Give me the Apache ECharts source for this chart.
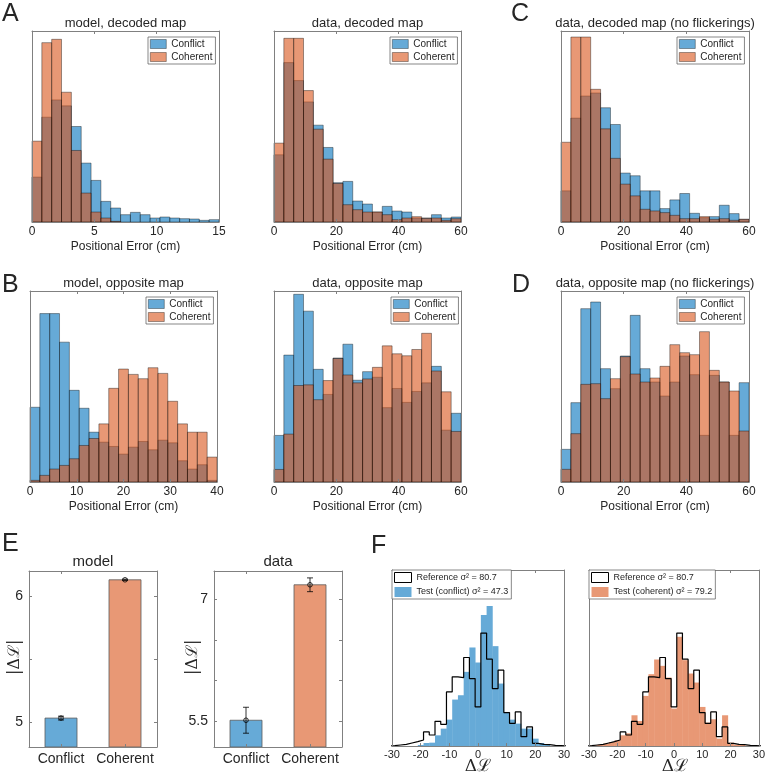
<!DOCTYPE html>
<html><head><meta charset="utf-8">
<script src="https://cdn.jsdelivr.net/npm/echarts@6/dist/echarts.min.js"></script>
<style>html,body{margin:0;padding:0;background:#fff}#c{width:768px;height:776px}</style>
</head><body><div id="c"></div>
<script>
// ---------------- DATA ----------------
// Histogram counts (arbitrary units), 19 bins spanning each panel's x range
const conflictModelDecoded = [135,315,367,349,287,177,125,62,42,22,29,22,12,15,12,10,9,5,7];
const coherentModelDecoded = [243,539,549,390,215,87,30,12,2,0,0,0,0,0,0,0,0,0,0];
const conflictDataDecoded  = [202,479,425,361,291,224,118,122,63,54,30,47,33,30,12,12,22,12,15];
const coherentDataDecoded  = [237,552,552,395,279,189,116,52,37,30,30,22,7,12,16,11,12,5,10];
const conflictDataDecodedNF = [93,310,376,385,341,291,146,138,93,93,40,66,85,26,13,16,50,25,8];
const coherentDataDecodedNF = [238,552,552,396,278,190,113,78,38,33,28,20,10,10,16,8,10,5,8];
const conflictModelOpp = [225,507,507,421,276,222,150,120,107,84,105,122,97,126,118,64,39,52,5];
const coherentModelOpp = [5,20,39,50,70,110,131,175,282,340,324,311,344,327,243,175,150,150,75];
const conflictDataOpp  = [141,384,568,517,341,265,375,417,308,334,317,225,283,241,274,300,350,157,208];
const coherentDataOpp  = [38,145,292,294,249,307,374,324,300,312,347,412,388,382,401,450,336,273,153];
const conflictDataOppNF = [98,238,520,540,340,280,378,500,340,300,258,300,378,322,140,320,300,140,298];
const coherentDataOppNF = [38,145,293,295,250,310,376,324,300,312,347,412,388,382,451,335,300,273,153];

// Panel E: mean |ΔL| and error
const eCategories = ['Conflict', 'Coherent'];
const eModelMeans = [5.03, 6.13];
const eModelErrs  = [0.015, 0.005];
const eDataMeans  = [5.51, 7.18];
const eDataErrs   = [0.16, 0.085];

// Panel F: ΔL histograms (bin centers, width 2)
const fBinCenters = [-30,-28,-26,-24,-22,-20,-18,-16,-14,-12,-10,-8,-6,-4,-2,0,2,4,6,8,10,12,14,16,18,20,22,24,26,28,30];
const fReference  = [1,3,5,9,13,18,42,33,74,65,162,207,205,265,202,117,338,260,172,227,100,68,102,28,57,8,5,4,2,1,0];
const fConflict   = [0,0,0,0,0,3,9,10,32,52,79,139,152,222,295,250,392,419,299,187,102,79,67,52,52,22,9,3,0,0,0];
const fCoherent   = [1,2,4,7,12,17,32,38,92,75,150,215,259,240,205,112,327,257,217,190,117,70,80,22,92,10,4,3,1,0,0];
const fRefName = 'Reference σ² = 80.7';
const fConfName = 'Test (conflict) σ² = 47.3';
const fCohName = 'Test (coherent) σ² = 79.2';

// ---------------- STYLE ----------------
const FONT = '"Liberation Sans", Arial, Helvetica, sans-serif';
const AXC = '#808080';
const TXT = '#262626';
const BLUE = 'rgba(0,114,189,0.6)';
const ORANGE = 'rgba(217,83,25,0.6)';
const BLUE_SOLID = 'rgb(102,170,215)';
const ORANGE_SOLID = 'rgb(232,152,117)';

const grid=[], xAxis=[], yAxis=[], series=[], legend=[], graphic=[];

function addText(x, y, text, size, o) {
  o = o || {};
  graphic.push({type:'text', x:x, y:y, rotation:o.rot||0, z:20,
    style:{text:text, fontSize:size, fontFamily:o.family||FONT, fill:TXT,
      align:o.align||'center', verticalAlign:o.va||'middle'}});
}

function makeBox(rect, xc, yc) {
  const gi = grid.length;
  grid.push(Object.assign({}, rect));
  const axLine = {show:true, onZero:false, lineStyle:{color:AXC, width:1}};
  const tick = Object.assign({show:true, inside:true, length:3, lineStyle:{color:AXC}}, xc.tickExtra||{});
  const ytick = yc.ticks ? Object.assign({show:true, inside:true, length:3, lineStyle:{color:AXC}}, yc.tickExtra||{}) : {show:false};
  const xb = xAxis.length;
  xAxis.push(Object.assign({gridIndex:gi, position:'bottom', z:5, axisLine:axLine, axisTick:tick,
    axisLabel:Object.assign({color:TXT, fontFamily:FONT, fontSize:12, margin:4}, xc.label||{}), splitLine:{show:false}}, xc.axis));
  xAxis.push(Object.assign({gridIndex:gi, position:'top', z:5, axisLine:axLine, axisTick:tick,
    axisLabel:{show:false}, splitLine:{show:false}}, xc.axis));
  const yl = yAxis.length;
  yAxis.push(Object.assign({gridIndex:gi, position:'left', z:5, axisLine:axLine, axisTick:ytick,
    axisLabel: yc.label ? Object.assign({color:TXT, fontFamily:FONT, fontSize:14, margin:6}, yc.label) : {show:false},
    splitLine:{show:false}}, yc.axis));
  yAxis.push(Object.assign({gridIndex:gi, position:'right', z:5, axisLine:axLine, axisTick:ytick,
    axisLabel:{show:false}, splitLine:{show:false}}, yc.axis));
  return {xb:xb, yl:yl};
}

function histLegend(left, top) {
  legend.push({left:left, top:top, orient:'vertical', itemWidth:16, itemHeight:9, itemGap:3,
    padding:[2,3,2,2], backgroundColor:'#fff', borderColor:'#555', borderWidth:0.7, z:10,
    selectedMode:false, textStyle:{fontSize:10, fontFamily:FONT, color:TXT},
    data:[{name:'Conflict', icon:'rect', itemStyle:{color:BLUE_SOLID, borderColor:'rgba(0,0,0,0.6)', borderWidth:0.6}},
          {name:'Coherent', icon:'rect', itemStyle:{color:ORANGE_SOLID, borderColor:'rgba(0,0,0,0.6)', borderWidth:0.6}}]});
}

function histPanel(rect, xMax, xInt, yMax, conf, coh, title, legPos) {
  const ax = makeBox(rect, {axis:{type:'value', min:0, max:xMax, interval:xInt}}, {axis:{type:'value', min:0, max:yMax}});
  const w = xMax / conf.length;
  const mk = vals => vals.map((v,i) => [i*w, (i+1)*w, v]);
  const render = fill => (params, api) => {
    const v = api.value(2);
    if (!(v > 0)) return null;
    const a = api.coord([api.value(0), v]);
    const b = api.coord([api.value(1), 0]);
    return {type:'rect', shape:{x:a[0], y:a[1], width:b[0]-a[0], height:b[1]-a[1]},
      style:{fill:fill, stroke:'rgba(0,0,0,0.55)', lineWidth:0.7}};
  };
  series.push({type:'custom', name:'Conflict', xAxisIndex:ax.xb, yAxisIndex:ax.yl, data:mk(conf),
    renderItem:render(BLUE), encode:{x:[0,1], y:2}, itemStyle:{color:BLUE_SOLID}, z:2});
  series.push({type:'custom', name:'Coherent', xAxisIndex:ax.xb, yAxisIndex:ax.yl, data:mk(coh),
    renderItem:render(ORANGE), encode:{x:[0,1], y:2}, itemStyle:{color:ORANGE_SOLID}, z:3});
  addText(rect.left + rect.width/2, rect.top - 8, title, 13);
  addText(rect.left + rect.width/2, rect.top + rect.height + 25, 'Positional Error (cm)', 12);
  histLegend(legPos[0], legPos[1]);
}

function barPanel(rect, yMin, yMax, tickVals, labelVals, means, errs, title, ylabX) {
  const ax = makeBox(rect,
    {axis:{type:'category', data:eCategories, boundaryGap:true}, tickExtra:{alignWithLabel:true}, label:{fontSize:14, margin:5, interval:0, hideOverlap:false}},
    {axis:{type:'value', min:yMin, max:yMax}, ticks:true, tickExtra:{customValues:tickVals}, label:{customValues:labelVals, fontSize:14}});
  series.push({type:'custom', xAxisIndex:ax.xb, yAxisIndex:ax.yl, data:means.map((m,i)=>[i,m]), encode:{x:0, y:1}, z:2,
    renderItem:(params, api) => {
      const i = api.value(0), v = api.value(1);
      const top = api.coord([i, v]), base = api.coord([i, yMin]);
      const bw = api.size([1, 0])[0] * 0.5;
      return {type:'rect', shape:{x:top[0]-bw/2, y:top[1], width:bw, height:base[1]-top[1]},
        style:{fill: i === 0 ? BLUE : ORANGE, stroke:'#5a5a5a', lineWidth:0.8}};
    }});
  series.push({type:'custom', xAxisIndex:ax.xb, yAxisIndex:ax.yl, data:means.map((m,i)=>[i,m,errs[i]]), encode:{x:0, y:1}, z:4,
    renderItem:(params, api) => {
      const i = api.value(0), m = api.value(1), e = api.value(2);
      const pm = api.coord([i, m]), pl = api.coord([i, m - e]), ph = api.coord([i, m + e]);
      const st = {stroke:'#000', lineWidth:0.8, fill:'none'};
      return {type:'group', children:[
        {type:'line', shape:{x1:pm[0], y1:ph[1], x2:pm[0], y2:pl[1]}, style:st},
        {type:'line', shape:{x1:pm[0]-3, y1:ph[1], x2:pm[0]+3, y2:ph[1]}, style:st},
        {type:'line', shape:{x1:pm[0]-3, y1:pl[1], x2:pm[0]+3, y2:pl[1]}, style:st},
        {type:'circle', shape:{cx:pm[0], cy:pm[1], r:2.3}, style:st}
      ]};
    }});
  addText(rect.left + rect.width/2, rect.top - 9, title, 15);
  addText(ylabX, rect.top + rect.height*0.49, '|Δℒ|', 16, {rot:Math.PI/2, family:'"DejaVu Serif", serif'});
}

function fPanel(rect, yMax, ref, test, fill, testName, legPos) {
  const ax = makeBox(rect, {axis:{type:'value', min:-30, max:30, interval:10}, label:{fontSize:11, margin:3}},
    {axis:{type:'value', min:0, max:yMax}});
  const half = 1;
  series.push({type:'custom', name:testName, xAxisIndex:ax.xb, yAxisIndex:ax.yl, clip:true, z:2,
    data:fBinCenters.map((c,i)=>[c-half, c+half, test[i]]), encode:{x:[0,1], y:2}, itemStyle:{color:fill},
    renderItem:(params, api) => {
      const v = api.value(2);
      if (!(v > 0)) return null;
      const a = api.coord([api.value(0), v]), b = api.coord([api.value(1), 0]);
      return {type:'rect', shape:{x:a[0], y:a[1], width:b[0]-a[0]+0.4, height:b[1]-a[1]}, style:{fill:fill}};
    }});
  const pts = [[fBinCenters[0]-half, 0]];
  fBinCenters.forEach((c,i) => { pts.push([c-half, ref[i]], [c+half, ref[i]]); });
  pts.push([fBinCenters[fBinCenters.length-1]+half, 0]);
  series.push({type:'line', name:fRefName, xAxisIndex:ax.xb, yAxisIndex:ax.yl, data:pts, symbol:'none', showSymbol:false,
    clip:true, z:4, lineStyle:{color:'#000', width:1.2}, itemStyle:{color:'#000'}});
  legend.push({left:legPos[0], top:legPos[1], orient:'vertical', itemWidth:17, itemHeight:10, itemGap:4,
    padding:[2,3,2,2], backgroundColor:'#fff', borderColor:'#555', borderWidth:0.7, z:10, selectedMode:false,
    textStyle:{fontSize:9, fontFamily:FONT, color:TXT},
    data:[{name:fRefName, icon:'rect', itemStyle:{color:'#fff', borderColor:'#000', borderWidth:1}},
          {name:testName, icon:'rect', itemStyle:{color:fill, borderWidth:0}}]});
  addText(rect.left + rect.width/2, 767, 'Δℒ', 17, {family:'"DejaVu Serif", serif'});
}

// ---------------- PANELS ----------------
histPanel({left:32, top:31, width:187, height:191}, 15, 5, 574, conflictModelDecoded, coherentModelDecoded, 'model, decoded map', [148, 37]);
histPanel({left:274, top:31, width:187, height:191}, 60, 20, 574, conflictDataDecoded, coherentDataDecoded, 'data, decoded map', [390, 37]);
histPanel({left:561, top:31, width:188, height:191}, 60, 20, 570, conflictDataDecodedNF, coherentDataDecodedNF, 'data, decoded map (no flickerings)', [677, 37]);
histPanel({left:30, top:291, width:187, height:191}, 40, 10, 575, conflictModelOpp, coherentModelOpp, 'model, opposite map', [146, 297]);
histPanel({left:274, top:291, width:187, height:191}, 60, 20, 578, conflictDataOpp, coherentDataOpp, 'data, opposite map', [391, 297]);
histPanel({left:561, top:291, width:188, height:191}, 60, 20, 573, conflictDataOppNF, coherentDataOppNF, 'data, opposite map (no flickerings)', [677, 297]);

barPanel({left:29, top:571, width:128, height:176}, 4.8, 6.2, [5, 5.5, 6], [5, 6], eModelMeans, eModelErrs, 'model', 15);
barPanel({left:214, top:571, width:128, height:176}, 5.18, 7.35, [5.5, 6, 6.5, 7], [5.5, 7], eDataMeans, eDataErrs, 'data', 193);

fPanel({left:392, top:570, width:172, height:176}, 527, fReference, fConflict, BLUE_SOLID, fConfName, [392, 570]);
fPanel({left:589, top:570, width:172, height:176}, 527, fReference, fCoherent, ORANGE_SOLID, fCohName, [589, 570]);

// panel letters
addText(2, 2, 'A', 25, {align:'left', va:'top'});
addText(511, 2, 'C', 25, {align:'left', va:'top'});
addText(2, 273, 'B', 25, {align:'left', va:'top'});
addText(512, 273, 'D', 25, {align:'left', va:'top'});
addText(2, 532, 'E', 25, {align:'left', va:'top'});
addText(371, 534, 'F', 25, {align:'left', va:'top'});

const chart = echarts.init(document.getElementById('c'), null, {renderer:'canvas'});
chart.setOption({animation:false, backgroundColor:'#fff', grid:grid, xAxis:xAxis, yAxis:yAxis,
  series:series, legend:legend, graphic:graphic, tooltip:{show:false}});
</script></body></html>
